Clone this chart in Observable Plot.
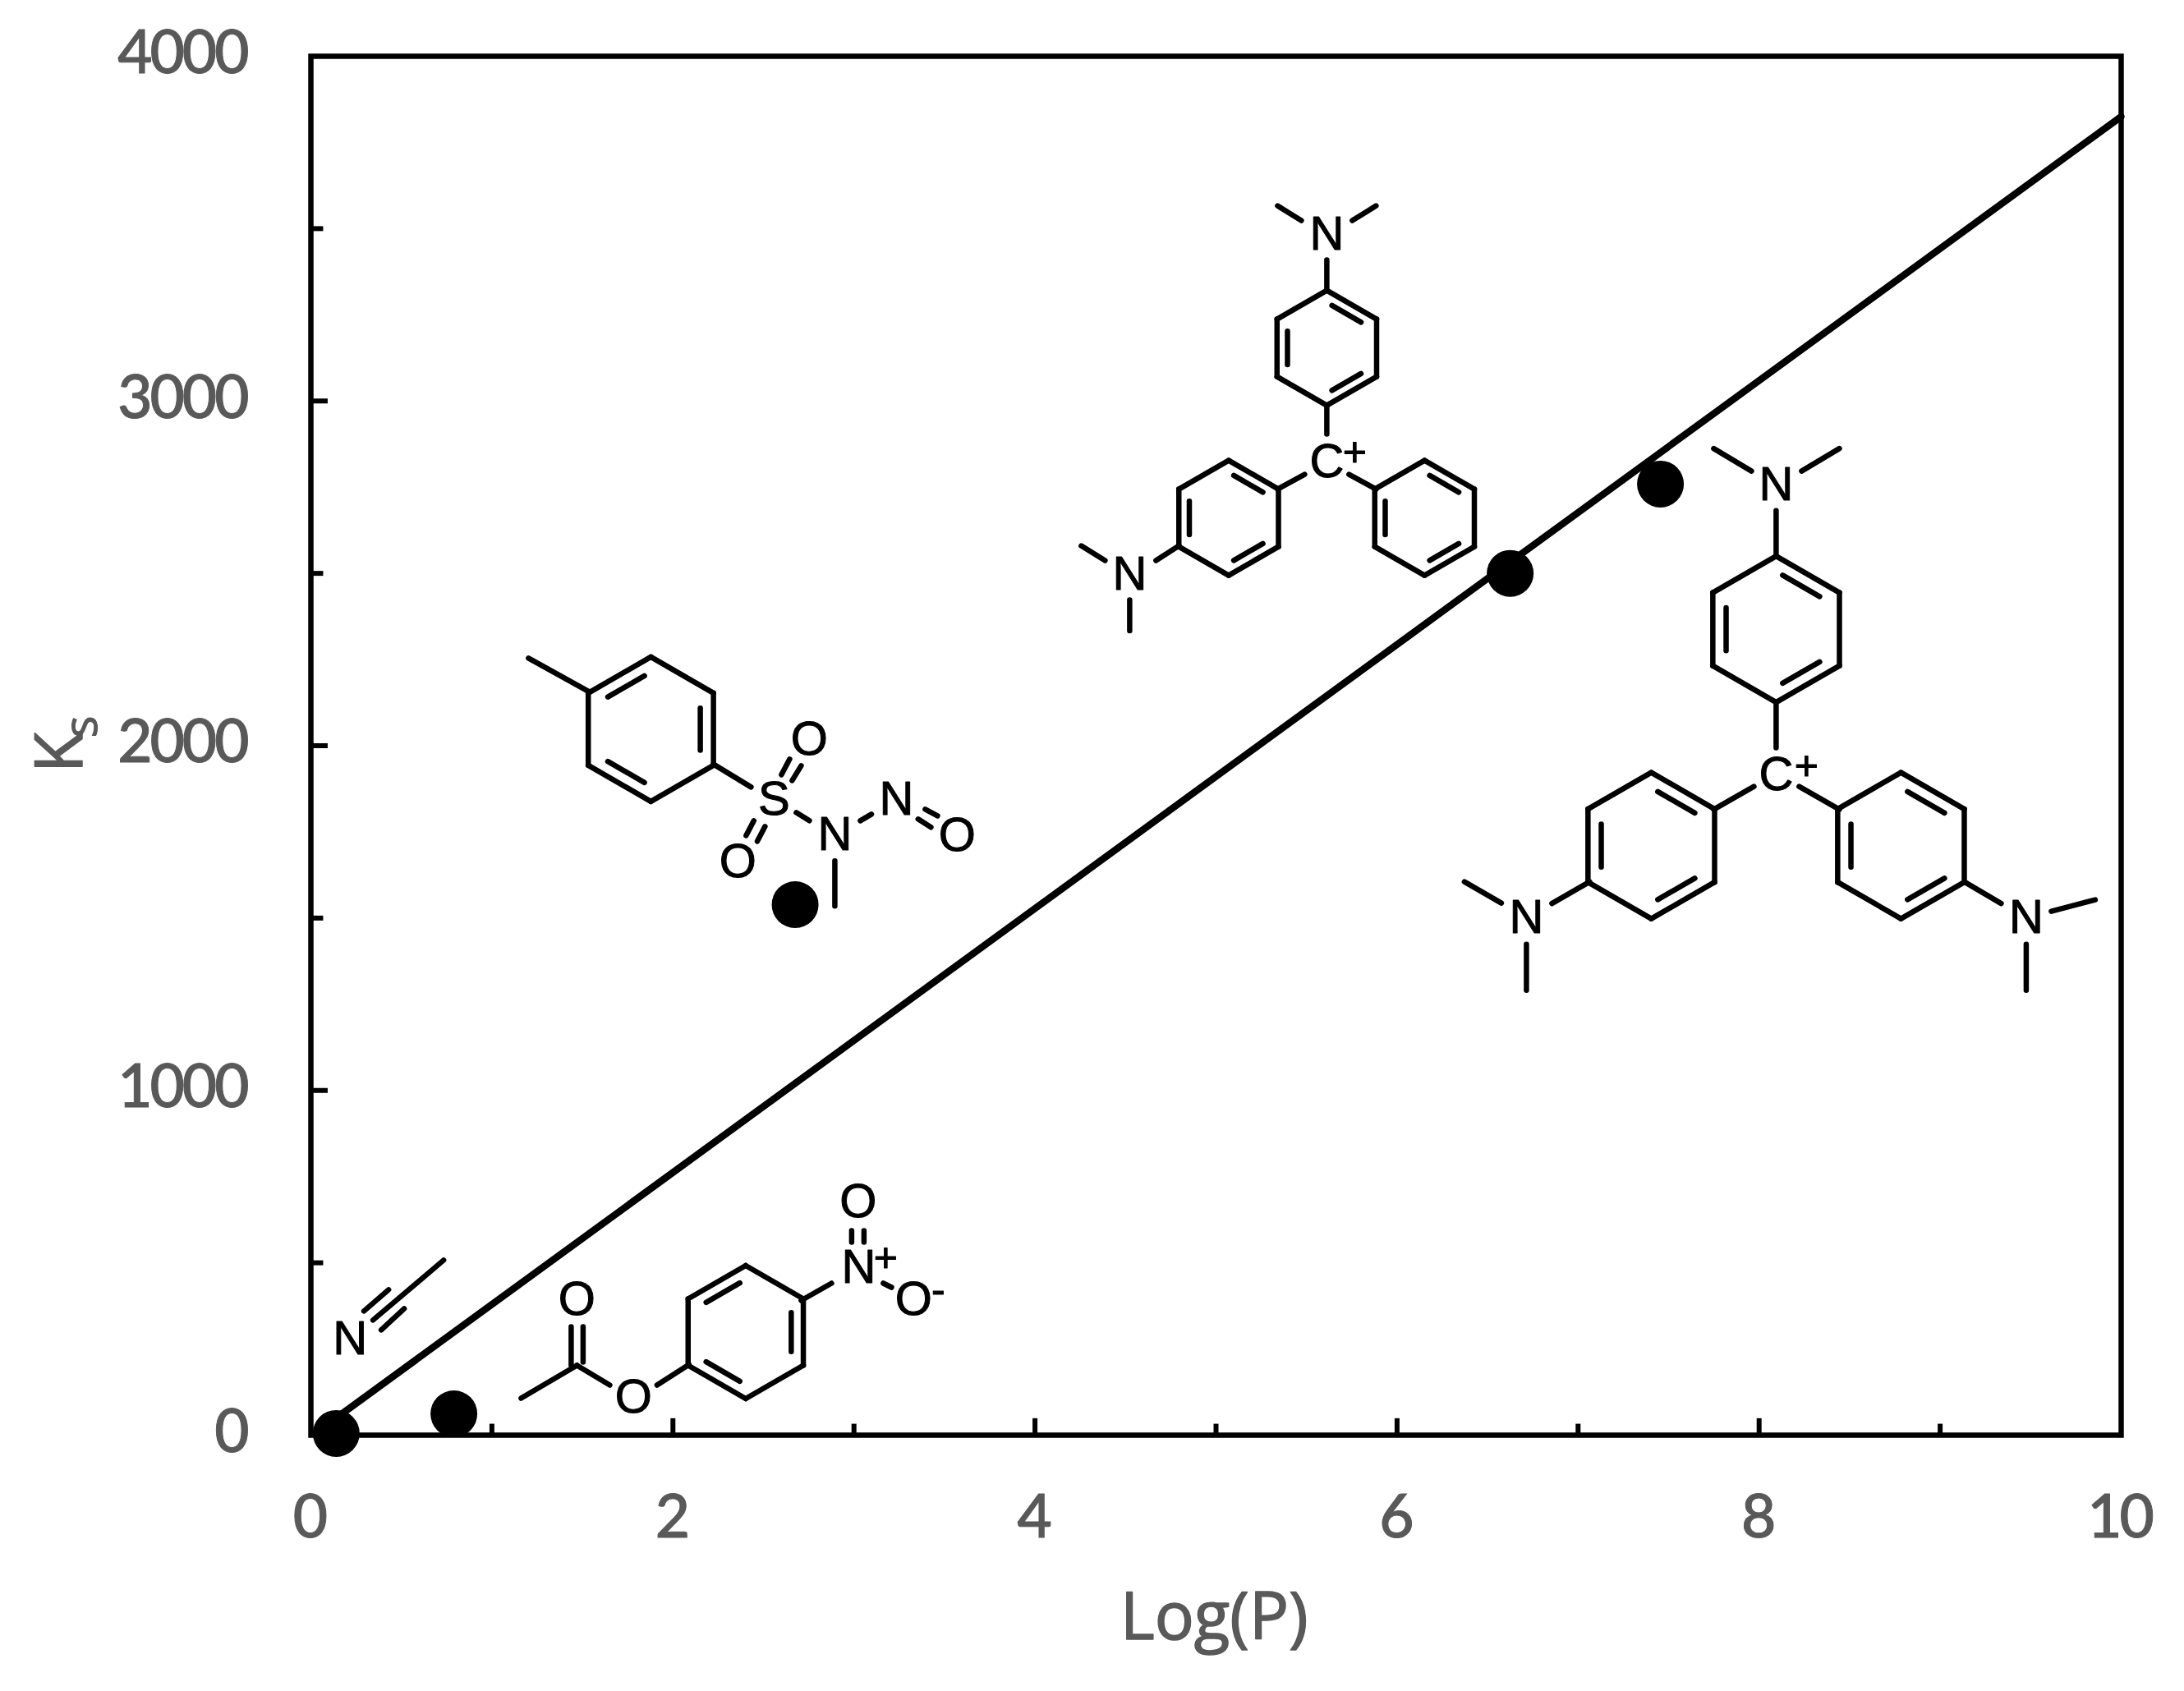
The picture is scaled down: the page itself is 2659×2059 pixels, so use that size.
<!DOCTYPE html>
<html>
<head>
<meta charset="utf-8">
<style>
html,body{margin:0;padding:0;background:#fff}svg{display:block}
[aria-label$="tick label"]{letter-spacing:-3px;font-weight:500;stroke:#595959;stroke-width:1px}
</style>
<script src="https://cdn.jsdelivr.net/npm/d3@7"></script>
<script src="https://cdn.jsdelivr.net/npm/@observablehq/plot@0.6"></script>
</head>
<body>
<div id="chart"></div>
<script>
// Measured values
const logP = [0.14, 0.79, 2.675, 6.625, 7.455];
const ks = [5, 62, 1539, 2500, 2759];
const fitX = [0.14, 10];
const fitY = [50, 3825];
const xMajor = [0, 2, 4, 6, 8, 10];
const xMinor = [1, 3, 5, 7, 9];
const yMajor = [0, 1000, 2000, 3000, 4000];
const yMinor = [500, 1500, 2500, 3500];
const xDomain = [0, 10];
const yDomain = [0, 4000];

const W = 2659, H = 2059, mL = 378, mR = 77, mT = 68, mB = 312;
const uX = (xDomain[1] - xDomain[0]) / (W - mL - mR);   // data per drawing unit
const uY = (yDomain[1] - yDomain[0]) / (H - mT - mB);

// Structural formulae: each sketch is anchored in data space, offsets in drawing units
const malachiteAnchor = [5.612, 3154];
const malachiteRings = [[0, 0], [-119.5, 207], [119, 207]];
const malachiteBonds = [
  [-60,-173,-31,-155],[60,-173,31,-155],[0,-107,0,-70],[0,70,0,105],
  [-27,154,-60,172],[27,154,60,172],[-180,241,-208,259],[-299,241,-270,259],[-240,307,-240,344.5]
];
const malachiteAtoms = [["N",0,-138],["C",0,139],["N",-240,276]];
const malachiteCharges = [["+",34,127]];

const violetAnchor = [8.094, 2338];
const violetRings = [[0, 0], [-152, 263.5], [152, 263.5]];
const violetBonds = [
  [-76,-220,-30,-192.5],[77,-220,31,-192.5],[0,-144.5,0,-88.5],[0,88.5,0,144.5],
  [-27,191.5,-76,219.5],[28,191.5,77,219.5],
  [-227,307.5,-273,334],[-379.5,307.5,-334.5,333.5],[-304,383.5,-304,439.5],
  [229,307.5,274,334],[335,343.5,388.5,329.5],[304.5,383.5,304.5,439.5]
];
const violetAtoms = [["N",0,-175.5],["C",0,177],["N",-304,351.5],["N",304.5,351.5]];
const violetCharges = [["+",37,166.5]];

const tosylAnchor = [1.878, 2048];
const tosylRings = [[0, 0]];
const tosylBonds = [
  [-149,-86.5,-75,-45.5],[76,42.5,122,70.5],
  [169,36.5,159,55.5],[183,44.5,172,62.5],[125.4,111.5,116,129.5],[139,118.5,129.6,136.5],
  [177,101.5,193,111.5],[255,111.5,268.6,103.5],[334,97.5,349,105.5],[325.4,109.5,341,119.5],
  [224,160.5,224,215.5]
];
const tosylAtoms = [["S",150,85.5],["O",193,12.5],["O",106,161.5],["N",224,128.5],["N",299,85.5],["O",373,129.5]];

const acetateAnchor = [2.402, 299];
const acetateRings = [[0, 0]];
const acetateBonds = [
  [67.5,-38.5,104.5,-59.5],[129,-123.5,129,-109.5],[144,-123.5,144,-109.5],[167.5,-59.5,177.5,-54.5],
  [-69,39.5,-108,64.5],[-165.5,64.5,-205.5,40.5],[-212.5,-6.5,-212.5,40.5],[-198,-6.5,-198,36.5],
  [-205.5,40.5,-273.5,80.5]
];
const acetateAtoms = [["N",137.5,-78.5],["O",137,-158.5],["O",204.5,-39.5],["O",-136.5,79],["O",-205.5,-39.5]];
const acetateCharges = [["+",170.5,-89.5],["-",234.5,-50.5]];

const nitrileAnchor = [0.216, 279];
const nitrileBonds = [[114,-96,28,-23],[47,-60,17,-34],[66,-37,38,-11]];
const nitrileAtoms = [["N",0,0]];

const segments = [], atoms = [], charges = [];
const px = (a, dx) => a[0] + dx * uX;
const py = (a, dy) => a[1] - dy * uY;
function addBonds(a, list) {
  for (const [x1, y1, x2, y2] of list)
    segments.push({x1: px(a, x1), y1: py(a, y1), x2: px(a, x2), y2: py(a, y2)});
}
function addRing(a, c, R, doubled) {
  const v = d3.range(6).map(i => {
    const t = i * Math.PI / 3;
    return [c[0] + R * Math.sin(t), c[1] - R * Math.cos(t)];
  });
  for (let i = 0; i < 6; i++) {
    const p = v[i], q = v[(i + 1) % 6];
    addBonds(a, [[p[0], p[1], q[0], q[1]]]);
    if (doubled.includes(i)) {
      const k = 0.79, s = 0.13;
      const ip = [c[0] + (p[0] - c[0]) * k, c[1] + (p[1] - c[1]) * k];
      const iq = [c[0] + (q[0] - c[0]) * k, c[1] + (q[1] - c[1]) * k];
      addBonds(a, [[ip[0] + (iq[0] - ip[0]) * s, ip[1] + (iq[1] - ip[1]) * s,
                    iq[0] - (iq[0] - ip[0]) * s, iq[1] - (iq[1] - ip[1]) * s]]);
    }
  }
}
function addText(a, list, out) {
  for (const [t, dx, dy] of list) out.push({t, x: px(a, dx), y: py(a, dy)});
}
malachiteRings.forEach(c => addRing(malachiteAnchor, c, 70, [0, 2, 4]));
addBonds(malachiteAnchor, malachiteBonds);
addText(malachiteAnchor, malachiteAtoms, atoms);
addText(malachiteAnchor, malachiteCharges, charges);
violetRings.forEach(c => addRing(violetAnchor, c, 89, [0, 2, 4]));
addBonds(violetAnchor, violetBonds);
addText(violetAnchor, violetAtoms, atoms);
addText(violetAnchor, violetCharges, charges);
tosylRings.forEach(c => addRing(tosylAnchor, c, 88, [1, 3, 5]));
addBonds(tosylAnchor, tosylBonds);
addText(tosylAnchor, tosylAtoms, atoms);
acetateRings.forEach(c => addRing(acetateAnchor, c, 81, [1, 3, 5]));
addBonds(acetateAnchor, acetateBonds);
addText(acetateAnchor, acetateAtoms, atoms);
addText(acetateAnchor, acetateCharges, charges);
addBonds(nitrileAnchor, nitrileBonds);
addText(nitrileAnchor, nitrileAtoms, atoms);

const grey = "#595959", axisFont = "Lato, 'Open Sans', sans-serif", titleFont = "'Open Sans', sans-serif", atomFont = "'Liberation Sans', Arial, sans-serif";
const points = logP.map((x, i) => ({x, y: ks[i]}));
const fit = fitX.map((x, i) => ({x, y: fitY[i]}));

const chart = Plot.plot({
  width: W, height: H,
  marginLeft: mL, marginRight: mR, marginTop: mT, marginBottom: mB,
  style: {background: "#fff"},
  x: {domain: xDomain, label: null},
  y: {domain: yDomain, label: null},
  marks: [
    Plot.axisX(xMajor, {tickSize: 0, tickPadding: 73, fontSize: 73, fontFamily: axisFont, fill: grey, label: null, dx: -2, tickFormat: d => String(d)}),
    Plot.axisY(yMajor, {tickSize: 0, tickPadding: 78, fontSize: 73, fontFamily: axisFont, fill: grey, label: null, dy: -3, tickFormat: d => String(d)}),
    Plot.ruleX(xMajor.slice(1, -1), {y1: 0, y2: 48, stroke: "#000", strokeWidth: 6}),
    Plot.ruleX(xMinor, {y1: 0, y2: 32, stroke: "#000", strokeWidth: 6}),
    Plot.ruleY(yMajor.slice(1, -1), {x1: 0, x2: 0.095, stroke: "#000", strokeWidth: 6}),
    Plot.ruleY(yMinor, {x1: 0, x2: 0.07, stroke: "#000", strokeWidth: 6}),
    Plot.frame({stroke: "#000", strokeWidth: 6.5, anchor: null}),
    Plot.link(segments, {x1: "x1", y1: "y1", x2: "x2", y2: "y2", stroke: "#000", strokeWidth: 6.5, strokeLinecap: "round"}),
    Plot.text(atoms, {x: "x", y: "y", text: "t", fontSize: 58, fontFamily: atomFont, fill: "#000", stroke: "#000", strokeWidth: 1}),
    Plot.text(charges, {x: "x", y: "y", text: "t", fontSize: 50, fontFamily: atomFont, fill: "#000", stroke: "#000", strokeWidth: 1}),
    Plot.line(fit, {x: "x", y: "y", stroke: "#000", strokeWidth: 8.5}),
    Plot.dot(points, {x: "x", y: "y", r: 28.5, fill: "#000", stroke: null}),
    Plot.text(["Log(P)"], {x: [4.99], y: [-531], text: d => d, fontSize: 80, fontFamily: titleFont, fill: grey, stroke: grey, strokeWidth: 1.5}),
    Plot.text(["K"], {x: [-1.38], y: [1980], text: d => d, fontSize: 81, rotate: -90, fontFamily: titleFont, fill: grey, stroke: grey, strokeWidth: 1.5}),
    Plot.text(["s"], {x: [-1.264], y: [2055], text: d => d, fontSize: 56, rotate: -90, fontFamily: titleFont, fill: grey, stroke: grey, strokeWidth: 1})
  ]
});
document.getElementById("chart").appendChild(chart);
</script>
</body>
</html>
